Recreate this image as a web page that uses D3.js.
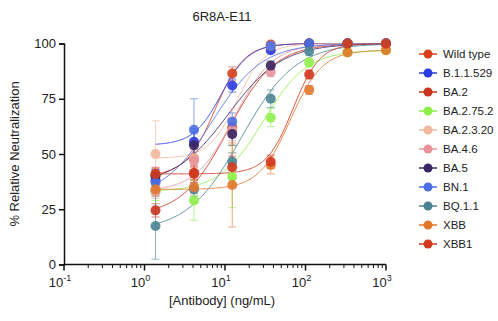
<!DOCTYPE html>
<html lang="en">
<head>
    <meta charset="UTF-8">
    <title>6R8A-E11</title>
    <script src="https://cdn.jsdelivr.net/npm/d3@7"></script>
    <style>
        body { margin: 0; background: #fff; }
        text { font-family: "Liberation Sans", Arial, sans-serif; fill: #222; }
    </style>
</head>
<body>

<script>
    // concentrations (ng/mL), 3-fold dilution
    var doses = [1.37, 4.12, 12.3, 37, 111, 333, 1000];

    var names = ["Wild type", "B.1.1.529", "BA.2", "BA.2.75.2", "BA.2.3.20", "BA.4.6",
                 "BA.5", "BN.1", "BQ.1.1", "XBB", "XBB1"];
    var colors = ["#d8401c", "#2a3ce0", "#c9351f", "#8ff04a", "#f2b79f", "#e8939b",
                  "#3a2660", "#4c70e2", "#4a8493", "#e2782c", "#d2381e"];

    // mean % neutralization per dose
    var means = [
        [40.5, 48, 86.4, 99.5, 100, 100, 100],
        [38, 55.5, 81, 97, 100, 100, 100],
        [24.5, 41.5, 62, 99, 100, 100, 100],
        [33, 29, 39.7, 66.4, 91.4, 96, 97],
        [50, 48, 60.5, 99, 100, 100, 100],
        [33, 47, 61, 87, 100, 100, 100],
        [40, 54, 59, 90, 100, 100, 100],
        [37, 61, 64.6, 99, 100, 100, 100],
        [17.4, 34, 46.5, 75, 96.5, 100, 100],
        [34, 35, 36, 45, 79, 96, 97],
        [41, 41, 44, 46.5, 86, 100, 100]
    ];
    // error (SD)
    var errs = [
        [3, 4, 3, 1, 1, 1, 1],
        [4, 6, 3, 1, 1, 1, 1],
        [3, 3, 4, 1, 1, 1, 1],
        [4, 9, 14, 4, 2, 1, 1],
        [15, 4, 10, 1, 1, 1, 1],
        [3, 4, 5, 2, 1, 1, 1],
        [3, 6, 5, 2, 1, 1, 1],
        [6, 14, 4, 1, 1, 1, 1],
        [15, 3, 4, 4, 2, 1, 1],
        [3, 3, 19, 4, 2, 1, 1],
        [3, 4, 5, 3, 2, 1, 1]
    ];

    // fitted 4PL curve parameters: bottom, top, EC50, hill
    var fitBottom = [40, 54, 22, 33, 48, 33, 36, 30, 15, 34, 41];
    var fitTop    = [100, 100, 100, 97, 100, 100, 100, 100, 100, 97, 100];
    var fitEC50   = [7.5, 9, 11, 30, 14, 13, 11, 7, 16, 65, 70];
    var fitHill   = [2.4, 2.5, 1.5, 1.6, 2.5, 1.8, 1.3, 1.4, 1.3, 2.2, 2.6];

    var yTicks = [0, 25, 50, 75, 100];
    var xTicks = [-1, 0, 1, 2, 3];

    var width = 498, height = 321;
    var svg = d3.select("body").append("svg")
            .attr("width", width)
            .attr("height", height);

    var x = d3.scaleLog().domain([0.1, 1000]).range([64, 386]);
    var y = d3.scaleLinear().domain([0, 100]).range([264.5, 43.5]);

    function fit(i, c) {
        return fitBottom[i] + (fitTop[i] - fitBottom[i]) /
            (1 + Math.pow(10, (Math.log10(fitEC50[i]) - Math.log10(c)) * fitHill[i]));
    }

    var curveX = d3.range(0, 201).map(function (k) {
        return Math.pow(10, Math.log10(doses[0]) + k / 200 * (Math.log10(1000) - Math.log10(doses[0])));
    });

    var line = d3.line()
            .x(function (d) { return x(d[0]); })
            .y(function (d) { return y(d[1]); });

    // curves
    var plot = svg.append("g");
    names.forEach(function (n, i) {
        plot.append("path")
                .attr("d", line(curveX.map(function (c) { return [c, fit(i, c)]; })))
                .attr("fill", "none")
                .attr("stroke", colors[i])
                .attr("stroke-width", 1)
                .attr("opacity", 0.85);
    });

    // error bars
    names.forEach(function (n, i) {
        var g = plot.append("g")
                .attr("stroke", colors[i])
                .attr("stroke-width", 1)
                .attr("opacity", 0.6);
        doses.forEach(function (c, j) {
            var lo = Math.max(0, means[i][j] - errs[i][j]), hi = means[i][j] + errs[i][j];
            var cx = x(c);
            g.append("line").attr("x1", cx).attr("x2", cx).attr("y1", y(lo)).attr("y2", y(hi));
            g.append("line").attr("x1", cx - 4).attr("x2", cx + 4).attr("y1", y(lo)).attr("y2", y(lo));
            g.append("line").attr("x1", cx - 4).attr("x2", cx + 4).attr("y1", y(hi)).attr("y2", y(hi));
        });
    });

    // points
    names.forEach(function (n, i) {
        plot.append("g").selectAll("circle")
                .data(doses)
                .enter()
                .append("circle")
                .attr("cx", function (d) { return x(d); })
                .attr("cy", function (d, j) { return y(means[i][j]); })
                .attr("r", 5)
                .attr("fill", colors[i])
                .attr("opacity", 0.9);
    });

    // y axis
    var yAxis = svg.append("g")
            .attr("transform", "translate(64,0)")
            .call(d3.axisLeft(y).tickValues(yTicks).tickSize(5).tickPadding(3));
    yAxis.select(".domain").attr("stroke-width", 1.5).attr("stroke", "#111");
    yAxis.selectAll(".tick line").attr("stroke-width", 1.5).attr("stroke", "#111");
    yAxis.selectAll(".tick text").style("font-size", "13px").attr("fill", "#222");

    // x axis with minor ticks
    var minor = [];
    for (var e = -1; e < 3; e++) {
        for (var m = 2; m <= 9; m++) minor.push(m * Math.pow(10, e));
    }
    var xg = svg.append("g").attr("transform", "translate(0,264.5)");
    xg.append("line").attr("x1", 64).attr("x2", 386).attr("stroke", "#111").attr("stroke-width", 1.5);
    xg.selectAll(".minor").data(minor).enter().append("line")
            .attr("x1", function (d) { return x(d); })
            .attr("x2", function (d) { return x(d); })
            .attr("y1", 0).attr("y2", 3.5)
            .attr("stroke", "#111").attr("stroke-width", 1);
    xg.selectAll(".major").data(xTicks).enter().append("line")
            .attr("x1", function (d) { return x(Math.pow(10, d)); })
            .attr("x2", function (d) { return x(Math.pow(10, d)); })
            .attr("y1", 0).attr("y2", 6)
            .attr("stroke", "#111").attr("stroke-width", 1.5);
    var lab = xg.selectAll(".lab").data(xTicks).enter().append("text")
            .attr("x", function (d) { return x(Math.pow(10, d)) - 4; })
            .attr("y", 22)
            .attr("text-anchor", "middle")
            .style("font-size", "13px");
    lab.append("tspan").text("10");
    lab.append("tspan").attr("dy", -6).style("font-size", "9px").text(function (d) { return d; });

    // titles
    svg.append("text").attr("x", 222).attr("y", 21).attr("text-anchor", "middle")
            .style("font-size", "13px").text("6R8A-E11");
    svg.append("text").attr("x", 222).attr("y", 305).attr("text-anchor", "middle")
            .style("font-size", "13px").text("[Antibody]  (ng/mL)");
    svg.append("text").attr("transform", "translate(19,154) rotate(-90)")
            .attr("text-anchor", "middle")
            .style("font-size", "13px").text("% Relative Neutralization");

    // legend
    var leg = svg.append("g").selectAll("g")
            .data(names)
            .enter()
            .append("g")
            .attr("transform", function (d, i) { return "translate(428," + (54 + i * 19) + ")"; });
    leg.append("line").attr("x1", -9).attr("x2", 9)
            .attr("stroke", function (d, i) { return colors[i]; }).attr("stroke-width", 1.5);
    leg.append("circle").attr("r", 4.5).attr("fill", function (d, i) { return colors[i]; });
    leg.append("text").attr("x", 15).attr("y", 4).style("font-size", "11.5px")
            .text(function (d) { return d; });
</script>
</body>
</html>
